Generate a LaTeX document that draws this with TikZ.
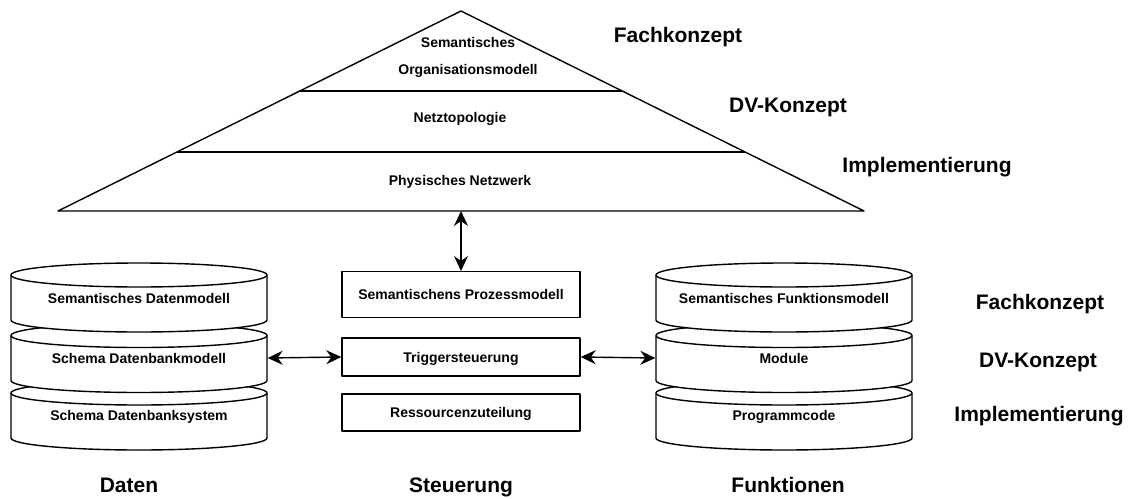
\documentclass[tikz,border=0pt]{standalone}
\usepackage{fontspec}
\setmainfont{Liberation Sans}
\usetikzlibrary{arrows.meta}

% stacked database cylinder: centre x, top-ellipse y, bottom-ellipse y (downward values)
\newcommand\dbcyl[3]{%
  \draw[fill=white] (#1-128,-#2) -- (#1-128,-#3)
    arc[start angle=180,end angle=360,x radius=128,y radius=12]
    -- (#1+128,-#2)
    arc[start angle=0,end angle=180,x radius=128,y radius=12] -- cycle;
  \draw (#1-128,-#2) arc[start angle=180,end angle=360,x radius=128,y radius=12];
}

\begin{document}
\begin{tikzpicture}[x=1pt,y=1pt,
  line width=1.4pt, line join=round,
  lbl/.style={font=\fontsize{14}{16}\selectfont\bfseries, text height=10pt, text depth=0pt, inner sep=0pt},
  big/.style={font=\fontsize{21}{24}\selectfont\bfseries, text height=15pt, text depth=0pt, inner sep=0pt},
  procbox/.style={lbl, draw, fill=white, minimum width=238, minimum height=#1},
  dbtext/.style={lbl, minimum width=256, minimum height=40},
  link/.style={{Stealth[length=15pt,width=14pt,inset=5pt]}-{Stealth[length=15pt,width=14pt,inset=5pt]}, line width=1.4pt}
]
\useasboundingbox (0,0) rectangle (1132,-498);

% pyramid with three layers
\draw (461,-11) -- (864,-211) -- (58,-211) -- cycle;
\draw (300,-91) -- (622,-91);
\draw (177,-152) -- (745,-152);
\coordinate (pyrbase) at (461,-211);

\node[lbl] (sem)  at (468,-42)  {Semantisches};
\node[lbl] (org)  at (468,-69)  {Organisationsmodell};
\node[lbl] (netz) at (460,-117) {Netztopologie};
\node[lbl] (phys) at (460,-180) {Physisches Netzwerk};

\node[big] (fk1)  at (678,-35)  {Fachkonzept};
\node[big] (dv1)  at (788,-105) {DV-Konzept};
\node[big] (im1)  at (927,-165) {Implementierung};

% data cylinders
\dbcyl{139}{393}{438}
\dbcyl{139}{335.5}{380.5}
\dbcyl{139}{275}{320}
\node[dbtext] (dsem) at (139,-298) {Semantisches Datenmodell};
\node[dbtext] (dbm)  at (139,-358) {Schema Datenbankmodell};
\node[dbtext] (dbs)  at (139,-415) {Schema Datenbanksystem};

% function cylinders
\dbcyl{784}{393}{438}
\dbcyl{784}{335.5}{380.5}
\dbcyl{784}{275}{320}
\node[dbtext] (fsem) at (784,-298) {Semantisches Funktionsmodell};
\node[dbtext] (mod)  at (784,-358) {Module};
\node[dbtext] (prog) at (784,-415) {Programmcode};

% control boxes
\node[procbox=46] (pm)  at (461,-294.7) {Semantischens Prozessmodell};
\node[procbox=38] (trg) at (461,-357)   {Triggersteuerung};
\node[procbox=37] (res) at (461,-412.5) {Ressourcenzuteilung};

% connectors
\draw[link] (pyrbase) -- (pm.north);
\draw[link] (dbm.east) -- (trg.west);
\draw[link] (trg.east) -- (mod.west);

% level labels on the right
\node[big] (fk2) at (1040,-302) {Fachkonzept};
\node[big] (dv2) at (1038,-360) {DV-Konzept};
\node[big] (im2) at (1039,-414) {Implementierung};

% column labels
\node[big] (cd) at (129,-485) {Daten};
\node[big] (cs) at (461,-485) {Steuerung};
\node[big] (cf) at (788,-485) {Funktionen};
\end{tikzpicture}
\end{document}
